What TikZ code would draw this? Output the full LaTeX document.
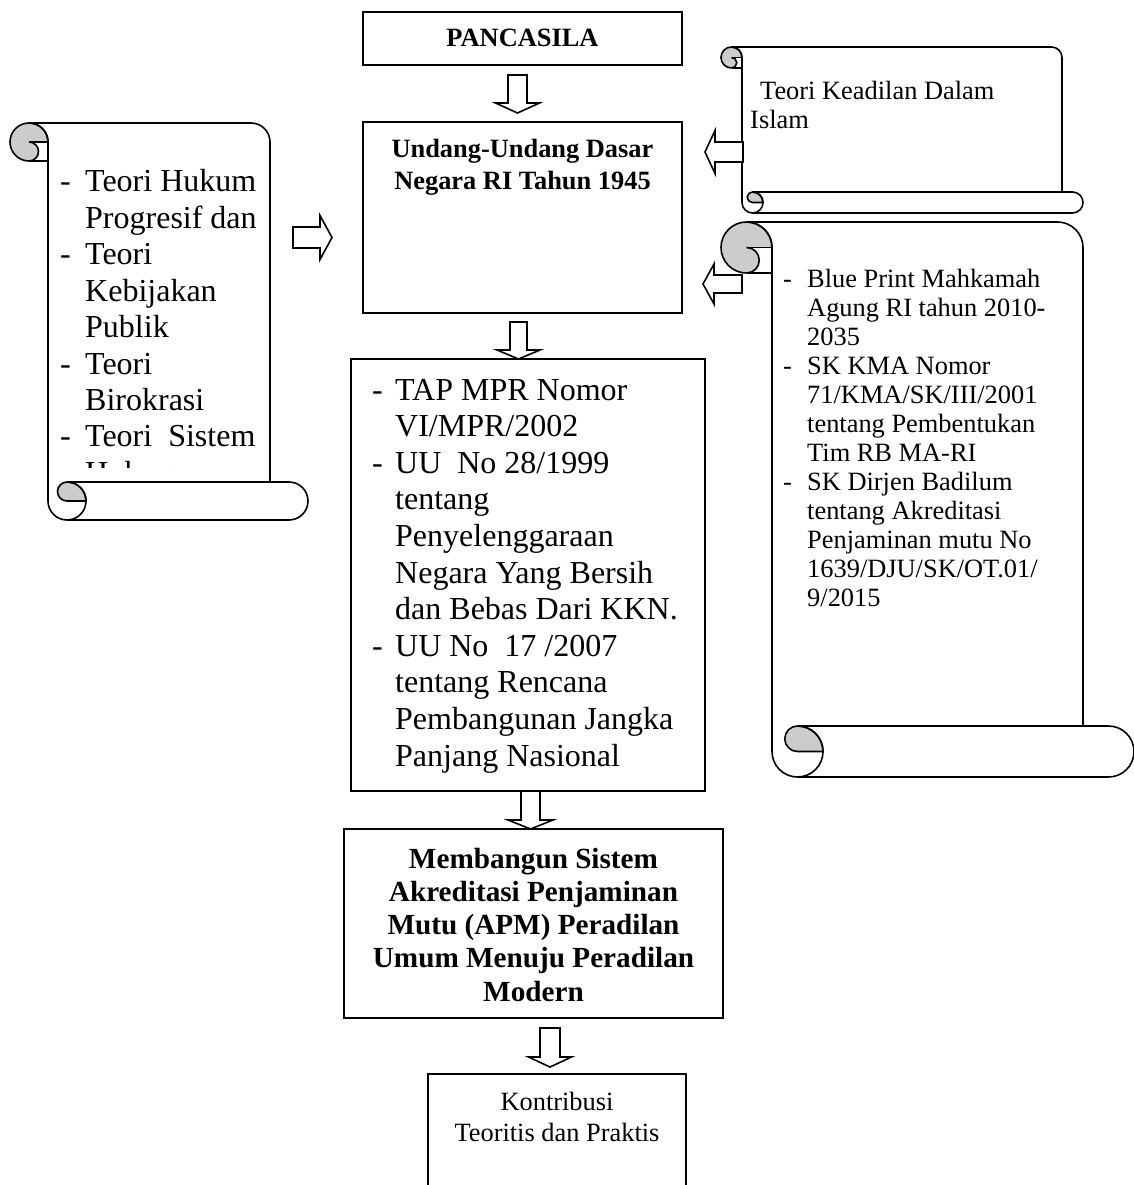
\documentclass[tikz,border=0pt]{standalone}
\usepackage{fontspec}
\setmainfont{Liberation Serif}
\definecolor{rollgrey}{HTML}{CCCCCC}
\tikzset{
  box/.style={draw, line width=1.8, rectangle, inner sep=0pt},
  blk/.style={draw, line width=1.6, fill=white, line join=miter},
  scr/.style={line width=1.6},
  txt/.style={inner sep=0pt, anchor=base west, align=flush left, text width=330},
  ctxt/.style={inner sep=0pt, anchor=base, align=flush center},
}
% vertical scroll: left, top, right, bottom (screen px), roll size
\newcommand\vscroll[5]{%
  \pgfmathsetmacro\scrX{#1}\pgfmathsetmacro\scrT{-(#2)}%
  \pgfmathsetmacro\scrR{#3}\pgfmathsetmacro\scrB{-(#4)}%
  \pgfmathsetmacro\scrC{#5}\pgfmathsetmacro\scrH{#5/2}\pgfmathsetmacro\scrQ{#5/4}%
  \def\scrbody{(\scrX+\scrH,\scrT) -- (\scrR-\scrC-\scrH,\scrT)
    arc[start angle=90,end angle=0,radius=\scrH] -- (\scrR-\scrC,\scrB+\scrC)
    -- (\scrR-\scrH,\scrB+\scrC) arc[start angle=90,end angle=-90,radius=\scrH]
    -- (\scrX+\scrC+\scrH,\scrB) arc[start angle=270,end angle=180,radius=\scrH]
    -- (\scrX+\scrC,\scrT-\scrH) arc[start angle=0,end angle=90,radius=\scrH] -- cycle}%
  \fill[white] \scrbody;
  % top curl fills
  \fill[rollgrey] (\scrX+\scrH,\scrT-\scrH) circle[radius=\scrH];
  \fill[white] (\scrX+\scrH,\scrT-\scrH) rectangle (\scrX+\scrC,\scrT-\scrC);
  \fill[rollgrey] (\scrX+\scrH,\scrT-\scrH) arc[start angle=90,end angle=-90,radius=\scrQ] -- cycle;
  \draw[scr] \scrbody;
  % top curl strokes
  \draw[scr] (\scrX+\scrH,\scrT-\scrC) arc[start angle=270,end angle=0,radius=\scrH];
  \draw[scr] (\scrX+\scrH,\scrT-\scrH) arc[start angle=90,end angle=-90,radius=\scrQ];
  \draw[scr] (\scrX+\scrH,\scrT-\scrH) -- (\scrX+\scrC,\scrT-\scrH)
             (\scrX+\scrH,\scrT-\scrC) -- (\scrX+\scrC,\scrT-\scrC);
  % bottom roll
  \draw[scr] (\scrR-\scrC,\scrB+\scrC) -- (\scrX+\scrC+\scrH,\scrB+\scrC);
  \filldraw[scr, fill=rollgrey] (\scrX+\scrC+\scrH,\scrB+\scrC)
    arc[start angle=90,end angle=0,radius=\scrH] -- (\scrX+\scrC+\scrH,\scrB+\scrH)
    arc[start angle=-90,end angle=-270,radius=\scrQ] -- cycle;
  \draw[scr] (\scrX+\scrC+\scrH,\scrB+\scrC) arc[start angle=90,end angle=-90,radius=\scrH];
}
% block arrow down: cx, top, base, tip, shaft half, head half
\newcommand\barrowV[6]{%
  \draw[blk] (#1-#5,-#2) -- (#1+#5,-#2) -- (#1+#5,-#3) -- (#1+#6,-#3) -- (#1,-#4)
    -- (#1-#6,-#3) -- (#1-#5,-#3) -- cycle;}
% block arrow horizontal: cy, start x, base x, tip x, shaft half, head half
\newcommand\barrowH[6]{%
  \draw[blk] (#2,-#1+#5) -- (#3,-#1+#5) -- (#3,-#1+#6) -- (#4,-#1) -- (#3,-#1-#6)
    -- (#3,-#1-#5) -- (#2,-#1-#5) -- cycle;}
\begin{document}
\begin{tikzpicture}[x=1pt,y=1pt]
\useasboundingbox (0,0) rectangle (1133,-1185);

% scrolls
\vscroll{10}{123}{308}{520}{38}
\vscroll{721}{47}{1083}{213}{21}
\vscroll{721}{222}{1134}{777}{51}

% boxes
\node[box, minimum width=319, minimum height=53] (panc) at (522.5,-38.5) {};
\node[box, minimum width=319, minimum height=191] (uud) at (522.5,-217.5) {};
\node[box, minimum width=354, minimum height=432] (tap) at (528,-575) {};
\node[box, minimum width=379, minimum height=189] (mem) at (533.5,-923.5) {};
\node[box, minimum width=258, minimum height=121] (kon) at (557,-1134.5) {};

% texts
\node[ctxt, text width=319, font=\bfseries\fontsize{26.4}{31.6}\selectfont] (pancT) at (522.5,-47) {PANCASILA};
\node[ctxt, text width=319, font=\bfseries\fontsize{26.4}{31.6}\selectfont] (uudT) at (522.5,-158) {Undang-Undang Dasar\\Negara RI Tahun 1945};
\node[ctxt, text width=379, font=\bfseries\fontsize{29.2}{33.3}\selectfont] (memT) at (533.5,-868) {Membangun Sistem\\Akreditasi Penjaminan\\Mutu (APM) Peradilan\\Umum Menuju Peradilan\\Modern};
\node[ctxt, text width=258, font=\fontsize{26.4}{31.5}\selectfont] (konT) at (557,-1110) {Kontribusi\\Teoritis dan Praktis};

\node[txt, font=\fontsize{32}{36.6}\selectfont] (tapT) at (372,-400) {%
\makebox[23pt][l]{-}TAP MPR Nomor\\
\hspace*{23pt}VI/MPR/2002\\
\makebox[23pt][l]{-}UU\ \ No 28/1999\\
\hspace*{23pt}tentang\\
\hspace*{23pt}Penyelenggaraan\\
\hspace*{23pt}Negara Yang Bersih\\
\hspace*{23pt}dan Bebas Dari KKN.\\
\makebox[23pt][l]{-}UU No\ \ 17 /2007\\
\hspace*{23pt}tentang Rencana\\
\hspace*{23pt}Pembangunan Jangka\\
\hspace*{23pt}Panjang Nasional};

\begin{scope}
\clip (40,-130) rectangle (300,-467);
\node[txt, font=\fontsize{32}{36.4}\selectfont] (leftT) at (60,-192) {%
\makebox[25pt][l]{-}Teori Hukum\\
\hspace*{25pt}Progresif dan\\
\makebox[25pt][l]{-}Teori\\
\hspace*{25pt}Kebijakan\\
\hspace*{25pt}Publik\\
\makebox[25pt][l]{-}Teori\\
\hspace*{25pt}Birokrasi\\
\makebox[25pt][l]{-}Teori\ \ Sistem\\
\hspace*{25pt}Hukum};
\end{scope}

\node[txt, font=\fontsize{26.4}{29}\selectfont] (islT) at (750,-100) {%
\hspace*{10pt}Teori Keadilan Dalam\\Islam};

\node[txt, font=\fontsize{26.4}{29}\selectfont] (rightT) at (783,-287) {%
\makebox[24pt][l]{-}Blue Print Mahkamah\\
\hspace*{24pt}Agung RI tahun 2010-\\
\hspace*{24pt}2035\\
\makebox[24pt][l]{-}SK KMA Nomor\\
\hspace*{24pt}71/KMA/SK/III/2001\\
\hspace*{24pt}tentang Pembentukan\\
\hspace*{24pt}Tim RB MA-RI\\
\makebox[24pt][l]{-}SK Dirjen Badilum\\
\hspace*{24pt}tentang Akreditasi\\
\hspace*{24pt}Penjaminan mutu No\\
\hspace*{24pt}1639/DJU/SK/OT.01/\\
\hspace*{24pt}9/2015};

% block arrows
\barrowV{517.5}{75}{103}{113}{9.5}{22}
\barrowV{518.5}{322}{350}{359}{8.5}{21.5}
\barrowV{530.5}{791}{820}{829}{9.5}{22.5}
\barrowV{550}{1028}{1057}{1067}{10}{21.5}
\barrowH{237.5}{293}{320}{332}{10.5}{22}
\barrowH{152}{743}{715}{705}{10}{21.5}
\barrowH{284}{742}{714}{703}{9}{20}
\end{tikzpicture}
\end{document}
